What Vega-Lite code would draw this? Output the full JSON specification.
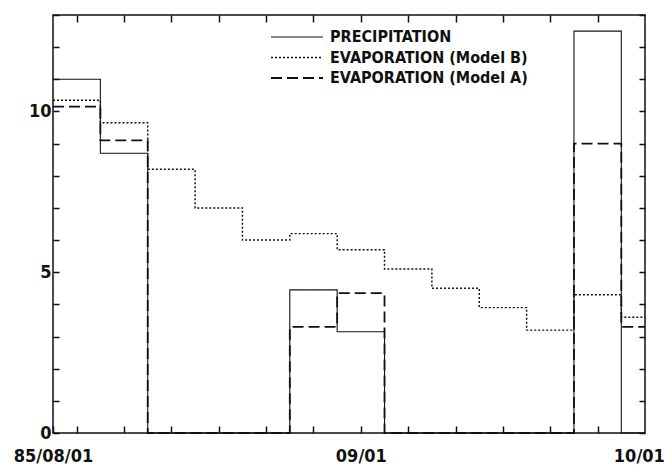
{
  "$schema": "https://vega.github.io/schema/vega-lite/v6.json",
  "width": 592,
  "height": 418,
  "autosize": {"type": "none"},
  "padding": {"left": 53, "top": 15, "right": 19, "bottom": 33},
  "background": "white",
  "config": {
    "view": {"stroke": "#111", "strokeWidth": 1.5},
    "font": "'Liberation Sans Narrow', 'DejaVu Sans Condensed', 'Liberation Sans', sans-serif",
    "axis": {
      "domain": false,
      "grid": false,
      "title": null,
      "tickColor": "#111",
      "tickWidth": 1.5,
      "labelColor": "#111",
      "labelFont": "'Liberation Sans Narrow', 'DejaVu Sans Condensed', 'Liberation Sans', sans-serif",
      "labelFontWeight": "bold",
      "labelFontSize": 18,
      "labelFlush": false
    },
    "legend": {
      "orient": "none",
      "legendX": 217,
      "legendY": 14,
      "title": null,
      "symbolType": "stroke",
      "symbolSize": 2700,
      "symbolStrokeColor": "#111",
      "clipHeight": 16,
      "labelFont": "'Liberation Sans Narrow', 'DejaVu Sans Condensed', 'Liberation Sans', sans-serif",
      "labelFontSize": 16,
      "labelFontWeight": "bold",
      "labelColor": "#111",
      "labelLimit": 400,
      "labelOffset": 6,
      "rowPadding": 4.5
    }
  },
  "data": {
    "values": [
      {"t": 0, "series": "PRECIPITATION", "value": 11.0},
      {"t": 1, "series": "PRECIPITATION", "value": 8.7},
      {"t": 2, "series": "PRECIPITATION", "value": 0},
      {"t": 3, "series": "PRECIPITATION", "value": 0},
      {"t": 4, "series": "PRECIPITATION", "value": 0},
      {"t": 5, "series": "PRECIPITATION", "value": 4.45},
      {"t": 6, "series": "PRECIPITATION", "value": 3.15},
      {"t": 7, "series": "PRECIPITATION", "value": 0},
      {"t": 8, "series": "PRECIPITATION", "value": 0},
      {"t": 9, "series": "PRECIPITATION", "value": 0},
      {"t": 10, "series": "PRECIPITATION", "value": 0},
      {"t": 11, "series": "PRECIPITATION", "value": 12.5},
      {"t": 12, "series": "PRECIPITATION", "value": 0},
      {"t": 12.5, "series": "PRECIPITATION", "value": 0},
      {"t": 0, "series": "EVAPORATION (Model B)", "value": 10.35},
      {"t": 1, "series": "EVAPORATION (Model B)", "value": 9.65},
      {"t": 2, "series": "EVAPORATION (Model B)", "value": 8.2},
      {"t": 3, "series": "EVAPORATION (Model B)", "value": 7.0},
      {"t": 4, "series": "EVAPORATION (Model B)", "value": 6.0},
      {"t": 5, "series": "EVAPORATION (Model B)", "value": 6.2},
      {"t": 6, "series": "EVAPORATION (Model B)", "value": 5.7},
      {"t": 7, "series": "EVAPORATION (Model B)", "value": 5.1},
      {"t": 8, "series": "EVAPORATION (Model B)", "value": 4.5},
      {"t": 9, "series": "EVAPORATION (Model B)", "value": 3.9},
      {"t": 10, "series": "EVAPORATION (Model B)", "value": 3.2},
      {"t": 11, "series": "EVAPORATION (Model B)", "value": 4.3},
      {"t": 12, "series": "EVAPORATION (Model B)", "value": 3.6},
      {"t": 12.5, "series": "EVAPORATION (Model B)", "value": 3.6},
      {"t": 0, "series": "EVAPORATION (Model A)", "value": 10.15},
      {"t": 1, "series": "EVAPORATION (Model A)", "value": 9.1},
      {"t": 2, "series": "EVAPORATION (Model A)", "value": 0},
      {"t": 3, "series": "EVAPORATION (Model A)", "value": 0},
      {"t": 4, "series": "EVAPORATION (Model A)", "value": 0},
      {"t": 5, "series": "EVAPORATION (Model A)", "value": 3.3},
      {"t": 6, "series": "EVAPORATION (Model A)", "value": 4.35},
      {"t": 7, "series": "EVAPORATION (Model A)", "value": 0},
      {"t": 8, "series": "EVAPORATION (Model A)", "value": 0},
      {"t": 9, "series": "EVAPORATION (Model A)", "value": 0},
      {"t": 10, "series": "EVAPORATION (Model A)", "value": 0},
      {"t": 11, "series": "EVAPORATION (Model A)", "value": 9.0},
      {"t": 12, "series": "EVAPORATION (Model A)", "value": 3.3},
      {"t": 12.5, "series": "EVAPORATION (Model A)", "value": 3.3}
    ]
  },
  "layer": [
    {
      "mark": {"type": "line", "interpolate": "step-after", "color": "#111", "strokeCap": "butt"},
      "encoding": {
        "x": {
          "field": "t",
          "type": "quantitative",
          "scale": {"domain": [0, 12.5], "nice": false, "zero": false},
          "axis": {
            "orient": "bottom",
            "values": [0, 0.5, 1.5, 2.5, 3.5, 4.5, 5.5, 6.5, 7.5, 8.5, 9.5, 10.5, 11.5, 12.37],
            "labelExpr": "datum.value == 0 ? '85/08/01' : (datum.value == 6.5 ? '09/01' : (datum.value == 12.37 ? '10/01' : ''))",
            "tickSize": -7,
            "tickOpacity": {"condition": {"test": "datum.value == 12.37", "value": 0}, "value": 1},
            "labelPadding": 21,
            "labelOverlap": false
          }
        },
        "y": {
          "field": "value",
          "type": "quantitative",
          "scale": {"domain": [0, 13], "nice": false},
          "axis": {
            "orient": "left",
            "values": [0, 1, 2, 3, 4, 5, 6, 7, 8, 9, 10, 11, 12, 13],
            "labelExpr": "datum.value % 5 == 0 ? datum.label : ''",
            "tickSize": -6,
            "labelPadding": 8,
            "labelOverlap": false
          }
        },
        "strokeDash": {
          "field": "series",
          "type": "nominal",
          "scale": {
            "domain": ["PRECIPITATION", "EVAPORATION (Model B)", "EVAPORATION (Model A)"],
            "range": [[1, 0], [2, 2], [11, 5]]
          },
          "legend": {}
        },
        "strokeWidth": {
          "field": "series",
          "type": "ordinal",
          "scale": {
            "domain": ["PRECIPITATION", "EVAPORATION (Model B)", "EVAPORATION (Model A)"],
            "range": [1.1, 1.8, 3]
          },
          "legend": {}
        }
      }
    },
    {
      "mark": {"type": "point", "opacity": 0},
      "encoding": {
        "x": {
          "field": "t",
          "type": "quantitative",
          "axis": {
            "orient": "top",
            "values": [0.5, 1.5, 2.5, 3.5, 4.5, 5.5, 6.5, 7.5, 8.5, 9.5, 10.5, 11.5],
            "labels": false,
            "tickSize": -7
          }
        },
        "y": {
          "field": "value",
          "type": "quantitative",
          "axis": {
            "orient": "right",
            "values": [0, 1, 2, 3, 4, 5, 6, 7, 8, 9, 10, 11, 12, 13],
            "labels": false,
            "tickSize": -6
          }
        }
      }
    }
  ],
  "resolve": {"axis": {"x": "independent", "y": "independent"}}
}
